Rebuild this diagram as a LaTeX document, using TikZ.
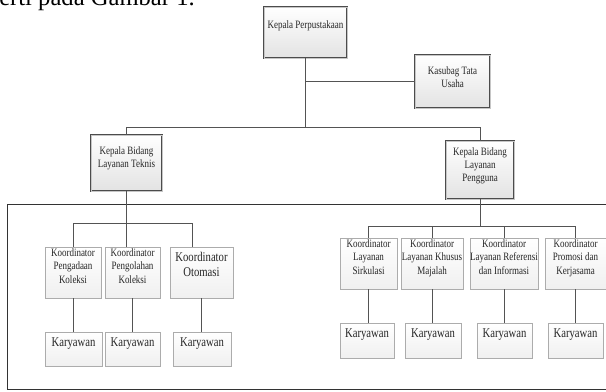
\documentclass[tikz,border=0pt]{standalone}
\usepackage{fontspec}
\setmainfont{Liberation Serif}
\newfontfamily\orgfont[FakeStretch=0.8]{Liberation Serif}
\usetikzlibrary{positioning, fit}

\begin{document}
\begin{tikzpicture}[
    x=0.025cm, y=-0.025cm,
    head/.style={
        draw=gray!60!black, line width=0.35pt,
        double=gray!45, double distance=0.7pt,
        top color=white, bottom color=gray!22,
        inner sep=0pt
    },
    koor/.style={
        draw=gray!65, line width=0.6pt,
        top color=white, bottom color=gray!12,
        inner sep=0pt
    },
    lbl/.style={inner sep=0pt, align=center, text=black!85,
        font=\orgfont\fontsize{8}{9.2}\selectfont},
    lblk/.style={lbl, font=\orgfont\fontsize{8}{9.6}\selectfont},
    lblbig/.style={lbl, font=\orgfont\fontsize{9.5}{10.6}\selectfont},
    line/.style={draw=gray!65!black, line width=0.6pt},
    frame/.style={draw=gray!40!black, line width=0.6pt, inner sep=0pt}
]
\useasboundingbox (0,0) rectangle (606,391);
\clip (0,0) rectangle (606,391);

% --- Caption fragment ---
\node[anchor=base west, inner sep=0pt, font=\fontsize{17.5}{20}\selectfont] (cap) at (-1,5) {erti pada Gambar 1.};

% --- Level 1 ---
\node[head, fit={(264,7) (347,58)}] (kp) {};
\node[lbl, below=10pt of kp.north] (kpt) {Kepala Perpustakaan};
\node[head, fit={(415,55) (490,108)}] (ktu) {};
\node[lbl, below=8pt of ktu.north] (ktut) {Kasubag Tata\\Usaha};

% --- Level 2 ---
\node[head, fit={(91,135) (162,191)}] (lt) {};
\node[lbl, below=8pt of lt.north] (ltt) {Kepala Bidang\\Layanan Teknis};
\node[head, fit={(446,141) (514,199)}] (lp) {};
\node[lbl, below=4.5pt of lp.north] (lpt) {Kepala Bidang\\Layanan\\Pengguna};

% Frame
\node[frame, fit={(7,204) (620,389.5)}] (frm) {};

% --- Koordinator: Layanan Teknis ---
\node[koor, fit={(45,247) (101,298)}] (k1) {};
\node[lblk, below=1pt of k1.north] (k1t) {Koordinator\\Pengadaan\\Koleksi};
\node[koor, fit={(105,247) (160,298)}] (k2) {};
\node[lblk, below=1pt of k2.north] (k2t) {Koordinator\\Pengolahan\\Koleksi};
\node[koor, fit={(170,247) (233,298)}] (k3) {};
\node[lblbig, below=4pt of k3.north] (k3t) {Koordinator\\Otomasi};

% --- Koordinator: Layanan Pengguna ---
\node[koor, fit={(340,238) (397,289)}] (k4) {};
\node[lblk, below=1pt of k4.north] (k4t) {Koordinator\\Layanan\\Sirkulasi};
\node[koor, fit={(401,238) (463,289)}] (k5) {};
\node[lblk, below=1pt of k5.north] (k5t) {Koordinator\\Layanan Khusus\\Majalah};
\node[koor, fit={(470,238) (538,289)}] (k6) {};
\node[lblk, below=1pt of k6.north] (k6t) {Koordinator\\Layanan Referensi\\dan Informasi};
\node[koor, fit={(545,238) (606,289)}] (k7) {};
\node[lblk, below=1pt of k7.north] (k7t) {Koordinator\\Promosi dan\\Kerjasama};

% --- Karyawan ---
\node[koor, fit={(45,332) (102,366)}] (w1) {};
\node[koor, fit={(105,332) (160,366)}] (w2) {};
\node[koor, fit={(173,332) (231,366)}] (w3) {};
\node[koor, fit={(340,323) (394,358)}] (w4) {};
\node[koor, fit={(405,323) (461,358)}] (w5) {};
\node[koor, fit={(477,323) (532,358)}] (w6) {};
\node[koor, fit={(548,323) (603,358)}] (w7) {};
\foreach \i in {1,...,7}
    \node[lblbig, below=4pt of w\i.north] (w\i t) {Karyawan};

% --- Lines ---
\coordinate (jtop) at (0,127);
\coordinate (jt) at (0,223);
\coordinate (jp) at (0,226);
\draw[line] (kp) -- (kp |- jtop);
\draw[line] (kp |- ktu) -- (ktu);
\draw[line] (lt) -- (lt |- jtop) -- (lp |- jtop) -- (lp);
\draw[line] (lt) -- (lt |- k2.north);
\draw[line] (k1) -- (k1 |- jt) -| ([xshift=-6.4pt]k3.north);
\draw[line] (lp) -- (lp |- jp);
\draw[line] (k4) -- (k4 |- jp) -- (k7 |- jp) -- (k7);
\draw[line] (k5) -- (k5 |- jp);
\draw[line] (k6) -- (k6 |- jp);
\foreach \i in {1,...,7}
    \draw[line] (k\i) -- (k\i |- w\i.north);

\end{tikzpicture}
\end{document}
